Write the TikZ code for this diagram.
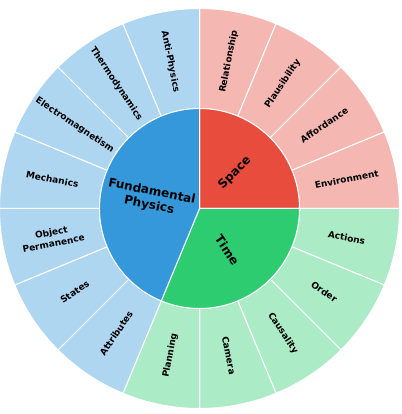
\documentclass[tikz,border=0pt]{standalone}
\usepackage{fontspec}
\setmainfont{DejaVu Sans}
\definecolor{spacedark}{HTML}{E74C3C}
\definecolor{spacelight}{HTML}{F5B7B1}
\definecolor{timedark}{HTML}{2ECC71}
\definecolor{timelight}{HTML}{ABEBC6}
\definecolor{physdark}{HTML}{3498DB}
\definecolor{physlight}{HTML}{AED6F1}

\begin{document}
\begin{tikzpicture}[x=1pt,y=1pt]
    \tikzset{Wedge/.style={draw=white, line width=1pt},
             LeafLabel/.style={font=\bfseries\fontsize{9}{11.5}\selectfont, align=center, inner sep=0pt},
             RootLabel/.style={font=\bfseries\fontsize{12}{14}\selectfont, align=center, inner sep=0pt}}
    \useasboundingbox (-199.5,-205.5) rectangle (201.5,208.5);
    % outer ring, one wedge per leaf
    \foreach \leaf [count=\k from 0] in {Relationship, Plausibility, Affordance, Environment,
            Actions, Order, Causality, Camera, Planning,
            Attributes, States, {Object\\Permanence}, Mechanics, Electromagnetism, Thermodynamics, Anti-Physics}{
        \pgfmathsetmacro{\a}{90-22.5*\k}
        \pgfmathsetmacro{\b}{\a-22.5}
        \pgfmathsetmacro{\m}{\a-11.25}
        \pgfmathsetmacro{\r}{\k>7 ? \m+180 : \m}
        \ifnum\k<4 \def\col{spacelight}\else\ifnum\k<9 \def\col{timelight}\else\def\col{physlight}\fi\fi
        \filldraw[Wedge, fill=\col] (\a:100) -- (\a:200) arc[start angle=\a, end angle=\b, radius=200]
            -- (\b:100) arc[start angle=\b, end angle=\a, radius=100] -- cycle;
        \node[LeafLabel, rotate=\r] (leaf\k) at (\m:150) {\leaf};
    }
    % inner ring
    \filldraw[Wedge, fill=spacedark] (0,0) -- (90:100) arc[start angle=90, end angle=0, radius=100] -- cycle;
    \filldraw[Wedge, fill=timedark] (0,0) -- (0:100) arc[start angle=0, end angle=-112.5, radius=100] -- cycle;
    \filldraw[Wedge, fill=physdark] (0,0) -- (-112.5:100) arc[start angle=-112.5, end angle=-270, radius=100] -- cycle;
    \node[RootLabel, rotate=45] (space) at (45:50) {Space};
    \node[RootLabel, rotate=-56.25] (time) at (-56.25:50) {Time};
    \node[RootLabel, rotate=-11.25] (physics) at (168.75:50) {Fundamental\\Physics};
\end{tikzpicture}
\end{document}
